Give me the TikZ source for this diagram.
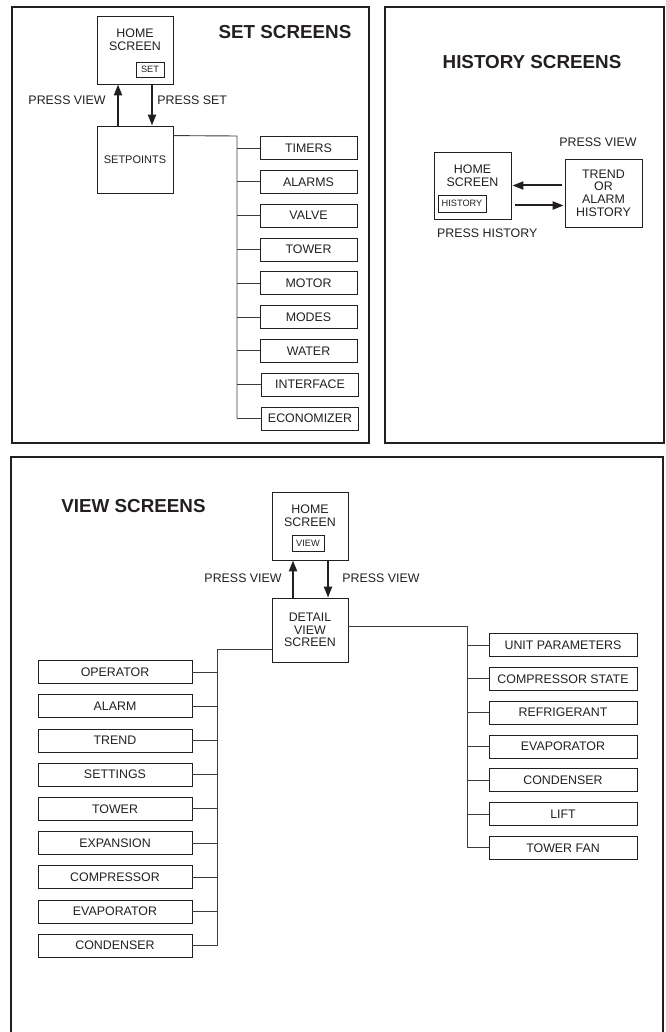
\documentclass[tikz,border=0pt]{standalone}
\usepackage{fontspec}
\setmainfont{Liberation Sans}
\usetikzlibrary{arrows.meta, positioning}
\definecolor{ink}{RGB}{35,31,32}
\definecolor{wiregray}{RGB}{60,60,60}

\begin{document}
\begin{tikzpicture}[
    x=1pt, y=-1pt,
    node distance=10pt,
    panel/.style={draw=ink, line width=1.4pt},
    title/.style={font=\fontsize{18.8}{20}\selectfont\bfseries, text=ink},
    scr/.style={rectangle, draw=ink, line width=0.8pt, minimum width=76pt, minimum height=68pt, inner sep=0pt},
    key/.style={rectangle, draw=ink, line width=0.7pt, inner sep=0pt, font=\fontsize{9.2}{10}\selectfont, text=ink},
    lbl/.style={font=\fontsize{12.4}{12.6}\selectfont, text=ink, align=center},
    item/.style={rectangle, draw=ink, line width=0.8pt, minimum height=23pt, inner sep=0pt, font=\fontsize{12.4}{12.6}\selectfont, text=ink},
    setitem/.style={item, minimum width=97pt},
    leftitem/.style={item, minimum width=154pt},
    rightitem/.style={item, minimum width=148pt},
    wire/.style={draw=wiregray, line width=0.9pt},
    arr/.style={-{Triangle[length=11pt, width=8pt]}, line width=2pt, draw=ink},
]
\useasboundingbox (0,0) rectangle (665,1032);

% Set screens
\draw[panel] (12,7) rectangle (369,443);
\node[title] (settitle) at (285,32) {SET SCREENS};
\node[scr] (home1) at (135,50) {};
\node[lbl] (home1txt) at ([yshift=-24pt]home1.north) {HOME\\SCREEN};
\node[key, minimum width=28pt, minimum height=15pt] (setkey) at (150,69.5) {SET};
\node[scr, minimum height=67pt, font=\fontsize{11}{12}\selectfont, text=ink] (setp) at (135,159.5) {SETPOINTS};

\draw[arr] ([xshift=-17pt]setp.north) -- node[lbl, anchor=east, xshift=-8pt, pos=0.62] {PRESS VIEW} ([xshift=-17pt]home1.south);
\draw[arr] ([xshift=17pt]home1.south) -- node[lbl, anchor=west, xshift=1pt, pos=0.38] {PRESS SET} ([xshift=17pt]setp.north);

\node[setitem] (timers) at (308.5,148) {TIMERS};
\node[setitem, below=of timers] (alarms) {ALARMS};
\node[setitem, below=of alarms] (valve) {VALVE};
\node[setitem, below=of valve] (stower) {TOWER};
\node[setitem, below=of stower] (motor) {MOTOR};
\node[setitem, below=of motor] (modes) {MODES};
\node[setitem, below=of modes] (water) {WATER};
\node[setitem, below=of water, xshift=1.5pt] (iface) {INTERFACE};
\node[setitem, below=of iface] (econ) {ECONOMIZER};

\coordinate (sbus) at (237,136);
\draw[wire] ([yshift=-10pt]setp.north east) -- (sbus) -- (sbus |- econ.west);
\draw[wire] (sbus |- timers.west) -- (timers.west);
\draw[wire] (sbus |- alarms.west) -- (alarms.west);
\draw[wire] (sbus |- valve.west) -- (valve.west);
\draw[wire] (sbus |- stower.west) -- (stower.west);
\draw[wire] (sbus |- motor.west) -- (motor.west);
\draw[wire] (sbus |- modes.west) -- (modes.west);
\draw[wire] (sbus |- water.west) -- (water.west);
\draw[wire] (sbus |- iface.west) -- (iface.west);
\draw[wire] (sbus |- econ.west) -- (econ.west);

% History screens
\draw[panel] (385,7) rectangle (664,443);
\node[title] (histtitle) at (532,62) {HISTORY SCREENS};
\node[scr, minimum width=77pt, minimum height=67pt] (home2) at (472.5,185.5) {};
\node[lbl] (home2txt) at ([yshift=-24pt]home2.north) {HOME\\SCREEN};
\node[key, minimum width=48pt, minimum height=17pt] (histkey) at (462,203.5) {HISTORY};
\node[scr, minimum width=77pt, lbl] (trend) at (603.5,193) {TREND\\OR\\ALARM\\HISTORY};
\node[lbl, above=8pt of trend, xshift=-5.5pt] (pview2) {PRESS VIEW};
\node[lbl, below=6pt of home2.south west, anchor=north west] (phist) {PRESS HISTORY};

\coordinate (h2out) at ([yshift=-20pt]home2.east);
\draw[arr, shorten <=3pt, shorten >=1pt] (trend.west |- home2.east) -- (home2.east);
\draw[arr, shorten <=4pt, shorten >=1pt] (h2out) -- (trend.west |- h2out);

% View screens
\draw[panel] (11,1032) -- (11,457) -- (663,457) -- (663,1032);
\node[title] (viewtitle) at (133.5,506) {VIEW SCREENS};
\node[scr] (home3) at (310,526) {};
\node[lbl] (home3txt) at ([yshift=-24pt]home3.north) {HOME\\SCREEN};
\node[key, minimum width=32pt, minimum height=16pt] (viewkey) at (308,543) {VIEW};
\node[scr, minimum height=64pt, lbl] (detail) at (310,630) {DETAIL\\VIEW\\SCREEN};

\draw[arr] ([xshift=-17pt]detail.north) -- node[lbl, anchor=east, xshift=-7pt, pos=0.53] {PRESS VIEW} ([xshift=-17pt]home3.south);
\draw[arr] ([xshift=18pt]home3.south) -- node[lbl, anchor=west, xshift=10pt, pos=0.47] {PRESS VIEW} ([xshift=18pt]detail.north);

\node[leftitem] (voper) at (115,672) {OPERATOR};
\node[leftitem, below=10.4pt of voper] (valarm) {ALARM};
\node[leftitem, below=10.4pt of valarm] (vtrend) {TREND};
\node[leftitem, below=10.4pt of vtrend] (vsettings) {SETTINGS};
\node[leftitem, below=10.4pt of vsettings] (vtower) {TOWER};
\node[leftitem, below=10.4pt of vtower] (vexpan) {EXPANSION};
\node[leftitem, below=10.4pt of vexpan] (vcomp) {COMPRESSOR};
\node[leftitem, below=10.4pt of vcomp] (vevap) {EVAPORATOR};
\node[leftitem, below=10.4pt of vevap] (vcond) {CONDENSER};

\node[rightitem] (unitpar) at (563,645) {UNIT PARAMETERS};
\node[rightitem, below=of unitpar] (compstate) {COMPRESSOR STATE};
\node[rightitem, below=of compstate] (refrig) {REFRIGERANT};
\node[rightitem, below=of refrig] (revap) {EVAPORATOR};
\node[rightitem, below=of revap] (rcond) {CONDENSER};
\node[rightitem, below=of rcond] (lift) {LIFT};
\node[rightitem, below=of lift] (towerfan) {TOWER FAN};

\coordinate (lbus) at (217,649);
\draw[wire] ([yshift=-19pt]detail.west) -- (lbus) -- (lbus |- vcond.east);
\draw[wire] (lbus |- voper.east) -- (voper.east);
\draw[wire] (lbus |- valarm.east) -- (valarm.east);
\draw[wire] (lbus |- vtrend.east) -- (vtrend.east);
\draw[wire] (lbus |- vsettings.east) -- (vsettings.east);
\draw[wire] (lbus |- vtower.east) -- (vtower.east);
\draw[wire] (lbus |- vexpan.east) -- (vexpan.east);
\draw[wire] (lbus |- vcomp.east) -- (vcomp.east);
\draw[wire] (lbus |- vevap.east) -- (vevap.east);
\draw[wire] (lbus |- vcond.east) -- (vcond.east);

\coordinate (rbus) at (467,626);
\draw[wire] ([yshift=4pt]detail.east) -- (rbus) -- (rbus |- towerfan.west);
\draw[wire] (rbus |- unitpar.west) -- (unitpar.west);
\draw[wire] (rbus |- compstate.west) -- (compstate.west);
\draw[wire] (rbus |- refrig.west) -- (refrig.west);
\draw[wire] (rbus |- revap.west) -- (revap.west);
\draw[wire] (rbus |- rcond.west) -- (rcond.west);
\draw[wire] (rbus |- lift.west) -- (lift.west);
\draw[wire] (rbus |- towerfan.west) -- (towerfan.west);

\end{tikzpicture}
\end{document}
